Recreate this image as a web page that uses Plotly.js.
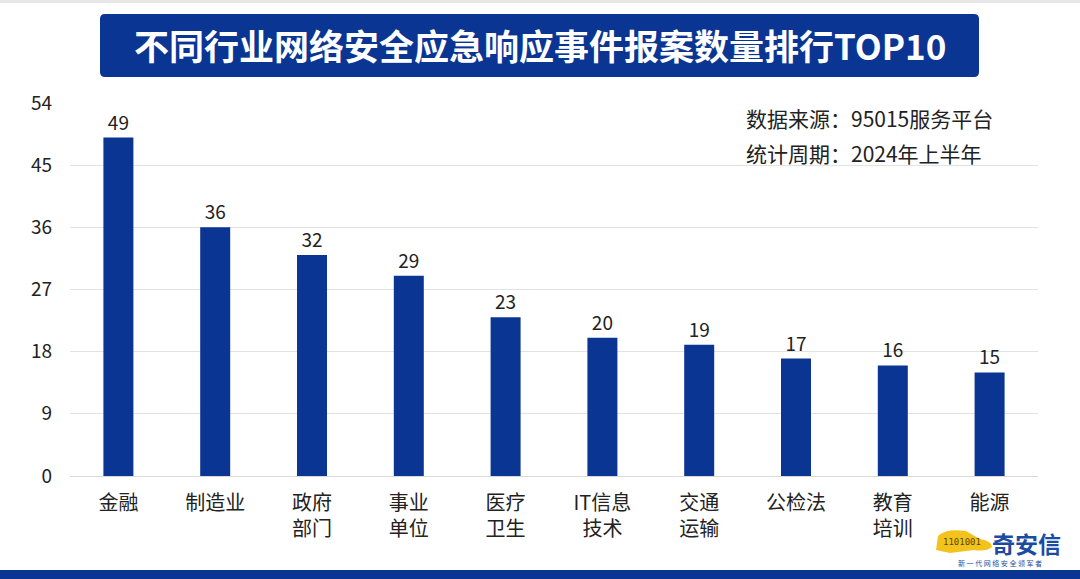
<!DOCTYPE html>
<html>
<head>
<meta charset="utf-8">
<script src="https://cdn.plot.ly/plotly-3.0.1.min.js"></script>
<style>
  html, body { margin: 0; padding: 0; background: #fff; }
  #graph { width: 1080px; height: 579px; }
</style>
</head>
<body>
<div id="graph"></div>
<script>
// industry names and number of reported incidents, H1 2024
var industries = ['金融', '制造业', '政府<br>部门', '事业<br>单位', '医疗<br>卫生',
                  'IT信息<br>技术', '交通<br>运输', '公检法', '教育<br>培训', '能源'];
var counts = [49, 36, 32, 29, 23, 20, 19, 17, 16, 15];
var yTicks = [0, 9, 18, 27, 36, 45, 54];

var titleText = '不同行业网络安全应急响应事件报案数量排行TOP10';
var sourceLines = ['数据来源：95015服务平台', '统计周期：2024年上半年'];

var blue = '#0a3593';
var font = '"Noto Sans CJK SC", "Noto Sans", sans-serif';

// plot area in pixels, used to place the decorations
var W = 1080, H = 579;
var L = 70, R = 1038, T = 103, B = 476;

function px(x) { return (x - L) / (R - L); }
function py(y) { return (B - y) / (B - T); }

// rounded box in paper coords, given pixel corners
function roundBox(x0, y0, x1, y1, r) {
  var a = px(x0), b = px(x1), c = py(y0), d = py(y1);
  var rx = r / (R - L), ry = r / (B - T);
  return 'M' + (a + rx) + ',' + c +
    ' L' + (b - rx) + ',' + c + ' Q' + b + ',' + c + ' ' + b + ',' + (c - ry) +
    ' L' + b + ',' + (d + ry) + ' Q' + b + ',' + d + ' ' + (b - rx) + ',' + d +
    ' L' + (a + rx) + ',' + d + ' Q' + a + ',' + d + ' ' + a + ',' + (d + ry) +
    ' L' + a + ',' + (c - ry) + ' Q' + a + ',' + c + ' ' + (a + rx) + ',' + c + ' Z';
}

function pathPx(pts) {
  // pts: list of [cmd, x, y, ...] in pixels
  return pts.map(function (p) {
    var s = p[0];
    for (var i = 1; i < p.length; i += 2) {
      s += (i > 1 ? ' ' : '') + px(p[i]) + ',' + py(p[i + 1]);
    }
    return s;
  }).join(' ') + ' Z';
}

// text placed by pixel centre (anchors given, else plotly picks 'auto')
function label(x, y, text, size, color, opts) {
  var a = { xref: 'paper', yref: 'paper', x: px(x), y: py(y), text: text,
            xanchor: 'center', yanchor: 'middle', showarrow: false,
            font: { family: font, size: size, color: color } };
  for (var k in (opts || {})) a[k] = opts[k];
  return a;
}

var trace = {
  type: 'bar',
  x: industries,
  y: counts,
  marker: { color: blue },
  text: counts.map(String),
  textposition: 'outside',
  textfont: { family: font, size: 19, color: '#222' },
  cliponaxis: false,
  hoverinfo: 'x+y'
};

var shapes = [
  // thin grey strip on top
  { type: 'rect', xref: 'paper', yref: 'paper', x0: px(0), x1: px(W), y0: py(0), y1: py(3),
    fillcolor: '#e6e6e6', line: { width: 0 }, layer: 'below' },
  // title box
  { type: 'path', xref: 'paper', yref: 'paper', path: roundBox(100, 14, 979, 77, 5),
    fillcolor: blue, line: { width: 0 } },
  // bottom band
  { type: 'rect', xref: 'paper', yref: 'paper', x0: px(0), x1: px(W), y0: py(570), y1: py(H),
    fillcolor: blue, line: { width: 0 } },
  // logo tiger blob
  { type: 'path', xref: 'paper', yref: 'paper',
    path: pathPx([['M', 936, 550], ['L', 938, 536], ['Q', 946, 528, 966, 531],
                  ['L', 980, 539], ['Q', 992, 541, 992, 547], ['Q', 986, 552, 974, 550],
                  ['L', 950, 553]]),
    fillcolor: '#f4c21c', line: { width: 0 } }
];

var annotations = [
  label(540, 45, '<b>' + titleText + '</b>', 35, '#fff'),
  label(744, 118, sourceLines[0], 21, '#222', { xanchor: 'left' }),
  label(744, 153, sourceLines[1], 21, '#222', { xanchor: 'left' }),
  // logo text
  label(962, 542, '1101001', 9, '#5a4a08', { font: { family: 'DejaVu Sans Mono', size: 9, color: '#5a4a08' } }),
  label(1026, 543, '<b>奇安信</b>', 23, '#1b4ba3'),
  label(1000, 563, '新 一 代 网 络 安 全 领 军 者', 7, '#1b4ba3')
];

var layout = {
  width: W,
  height: H,
  margin: { l: L, r: W - R, t: T, b: H - B, pad: 0 },
  paper_bgcolor: '#fff',
  plot_bgcolor: '#fff',
  showlegend: false,
  bargap: 0.69,
  font: { family: font, color: '#222' },
  xaxis: {
    showline: false,
    ticks: '',
    tickfont: { family: font, size: 20, color: '#222' },
    tickangle: 0,
    ticklabelstandoff: 13,
    fixedrange: true
  },
  yaxis: {
    range: [0, 54],
    tickvals: yTicks,
    ticktext: yTicks.map(String),
    showgrid: true,
    gridcolor: '#e2e2e2',
    zeroline: true,
    zerolinecolor: '#d9d9d9',
    zerolinewidth: 1,
    tickfont: { family: font, size: 19, color: '#222' },
    ticklabelstandoff: 17,
    fixedrange: true
  },
  shapes: shapes,
  annotations: annotations
};

Plotly.newPlot('graph', [trace], layout, { displayModeBar: false, staticPlot: true });
</script>
</body>
</html>
